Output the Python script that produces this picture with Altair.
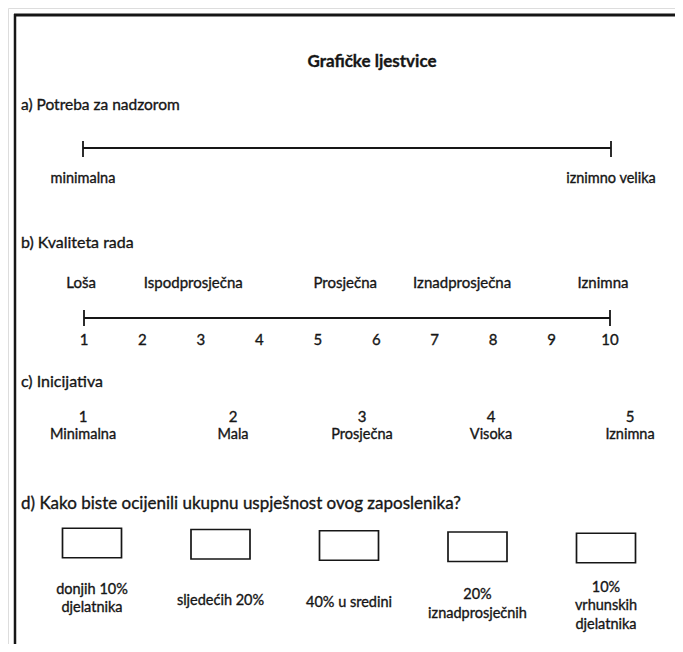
import altair as alt
import pandas as pd

# ---------------- content ----------------
title = "Grafičke ljestvice"
headings = [
    "a) Potreba za nadzorom",
    "b) Kvaliteta rada",
    "c) Inicijativa",
    "d) Kako biste ocijenili ukupnu uspješnost ovog zaposlenika?",
]

# a) continuous scale 0..1 with two end labels
a_values = [0, 1]
a_labels = ["minimalna", "iznimno velika"]

# b) 1..10 scale with verbal anchors
b_values = [1, 2, 3, 4, 5, 6, 7, 8, 9, 10]
b_anchor_labels = ["Loša", "Ispodprosječna", "Prosječna", "Iznadprosječna", "Iznimna"]
b_anchor_pos = [0.95, 2.87, 5.47, 7.47, 9.88]

# c) 1..5 scale
c_values = [1, 2, 3, 4, 5]
c_labels = ["Minimalna", "Mala", "Prosječna", "Visoka", "Iznimna"]

# d) checkbox categories
d_values = [1, 2, 3, 4, 5]
d_labels = [
    ["donjih 10%", "djelatnika"],
    ["sljedećih 20%"],
    ["40% u sredini"],
    ["20%", "iznadprosječnih"],
    ["10%", "vrhunskih", "djelatnika"],
]

# ---------------- layout (page pixels) ----------------
M = 8
W, H = 683 - 2 * M, 652 - 2 * M


def px(v):
    return v - M


FONT = "Lato"
INK = "#161616"
TXT = dict(font=FONT, color=INK, stroke=INK, strokeWidth=0.35)

heading_y = [105, 243, 382, 504]
heading_size = [15.5, 16, 16, 17]

layers = []

# frame
layers.append(
    alt.Chart(pd.DataFrame({"k": [0]})).mark_rule(color=INK, strokeWidth=3).encode(
        x=alt.value(px(14)), x2=alt.value(W + 2), y=alt.value(px(15))
    )
)
layers.append(
    alt.Chart(pd.DataFrame({"k": [0]})).mark_rule(color=INK, strokeWidth=2.5).encode(
        x=alt.value(px(15)), y=alt.value(px(14)), y2=alt.value(H + 2)
    )
)

# title
layers.append(
    alt.Chart(pd.DataFrame({"t": [title]})).mark_text(
        fontSize=17, fontWeight="bold", align="center", baseline="middle", **TXT
    ).encode(x=alt.value(px(372)), y=alt.value(px(62)), text="t:N")
)

# headings
for h, hy, hs in zip(headings, heading_y, heading_size):
    layers.append(
        alt.Chart(pd.DataFrame({"t": [h]})).mark_text(
            fontSize=hs, align="left", baseline="middle", **TXT
        ).encode(x=alt.value(px(21)), y=alt.value(px(hy)), text="t:N")
    )

# ---- a)
sa = alt.Scale(domain=[0, 1], range=[px(83), px(611)], zero=False, nice=False)
dfa = pd.DataFrame({"v": a_values, "lab": a_labels})
layers.append(
    alt.Chart(pd.DataFrame({"s": [min(a_values)], "e": [max(a_values)]})).mark_rule(
        color=INK, strokeWidth=1.8
    ).encode(x=alt.X("s:Q", scale=sa, axis=None), x2="e:Q", y=alt.value(px(148)))
)
layers.append(
    alt.Chart(dfa).mark_rule(color=INK, strokeWidth=1.8).encode(
        x=alt.X("v:Q", scale=sa, axis=None), y=alt.value(px(141)), y2=alt.value(px(157))
    )
)
layers.append(
    alt.Chart(dfa).mark_text(fontSize=14.5, baseline="middle", **TXT).encode(
        x=alt.X("v:Q", scale=sa, axis=None), y=alt.value(px(179)), text="lab:N"
    )
)

# ---- b)
sb = alt.Scale(domain=[1, 10], range=[px(84), px(610)], zero=False, nice=False)
dfb = pd.DataFrame({"v": b_values, "lab": [str(v) for v in b_values]})
dfb_anchor = pd.DataFrame({"v": b_anchor_pos, "lab": b_anchor_labels})
layers.append(
    alt.Chart(pd.DataFrame({"s": [min(b_values)], "e": [max(b_values)]})).mark_rule(
        color=INK, strokeWidth=1.8
    ).encode(x=alt.X("s:Q", scale=sb, axis=None), x2="e:Q", y=alt.value(px(318)))
)
layers.append(
    alt.Chart(pd.DataFrame({"v": [min(b_values), max(b_values)]})).mark_rule(
        color=INK, strokeWidth=1.8
    ).encode(x=alt.X("v:Q", scale=sb, axis=None), y=alt.value(px(310)), y2=alt.value(px(326)))
)
layers.append(
    alt.Chart(dfb).mark_text(fontSize=15, baseline="middle", **TXT).encode(
        x=alt.X("v:Q", scale=sb, axis=None), y=alt.value(px(340)), text="lab:N"
    )
)
layers.append(
    alt.Chart(dfb_anchor).mark_text(fontSize=15, baseline="middle", **TXT).encode(
        x=alt.X("v:Q", scale=sb, axis=None), y=alt.value(px(283)), text="lab:N"
    )
)

# ---- c)
sc = alt.Scale(domain=c_values, range=[px(83), px(233), px(362), px(491), px(630)], zero=False, nice=False)
dfc = pd.DataFrame({"v": c_values, "num": [str(v) for v in c_values], "lab": c_labels})
layers.append(
    alt.Chart(dfc).mark_text(fontSize=15, baseline="middle", **TXT).encode(
        x=alt.X("v:Q", scale=sc, axis=None), y=alt.value(px(417)), text="num:N"
    )
)
layers.append(
    alt.Chart(dfc).mark_text(fontSize=14.5, baseline="middle", **TXT).encode(
        x=alt.X("v:Q", scale=sc, axis=None), y=alt.value(px(435)), text="lab:N"
    )
)

# ---- d)  (the scanned page is slightly tilted: right side sits a few px lower)
LH = 18.5
sd = alt.Scale(domain=[1, 5], range=[px(92), px(606)], zero=False, nice=False)
sd_box_y = alt.Scale(domain=[1, 5], range=[px(543), px(548)], zero=False, nice=False)
sd_lab_y = alt.Scale(domain=[-1, 1], range=[px(599 - LH), px(599 + LH)], zero=False, nice=False)
dfd = pd.DataFrame({"v": d_values})
rows = []
for v, lines in zip(d_values, d_labels):
    n = len(lines)
    for i, line in enumerate(lines):
        rows.append({"v": v, "k": i - (n - 1) / 2, "lab": line})
dfd_lines = pd.DataFrame(rows)

box_path = "M-1,-0.5H1V0.5H-1Z"
layers.append(
    alt.Chart(dfd).mark_point(
        shape=box_path, size=59 * 59, filled=False, color=INK, strokeWidth=1.7, opacity=1
    ).encode(
        x=alt.X("v:Q", scale=sd, axis=None),
        y=alt.Y("v:Q", scale=sd_box_y, axis=None),
    )
)
layers.append(
    alt.Chart(dfd_lines)
    .transform_calculate(yy=f"datum.k + (datum.v - 1) * {1.75 / LH}")
    .mark_text(fontSize=14.5, baseline="middle", **TXT)
    .encode(
        x=alt.X("v:Q", scale=sd, axis=None),
        y=alt.Y("yy:Q", scale=sd_lab_y, axis=None),
        text="lab:N",
    )
)

chart = (
    alt.layer(*layers)
    .resolve_scale(x="independent", y="independent")
    .properties(width=W, height=H, padding=0, autosize=alt.AutoSizeParams(type="none"))
    .configure_view(stroke=None)
    .configure(background="white")
)

chart.save("out.html", embed_options={"renderer": "svg", "actions": False})
